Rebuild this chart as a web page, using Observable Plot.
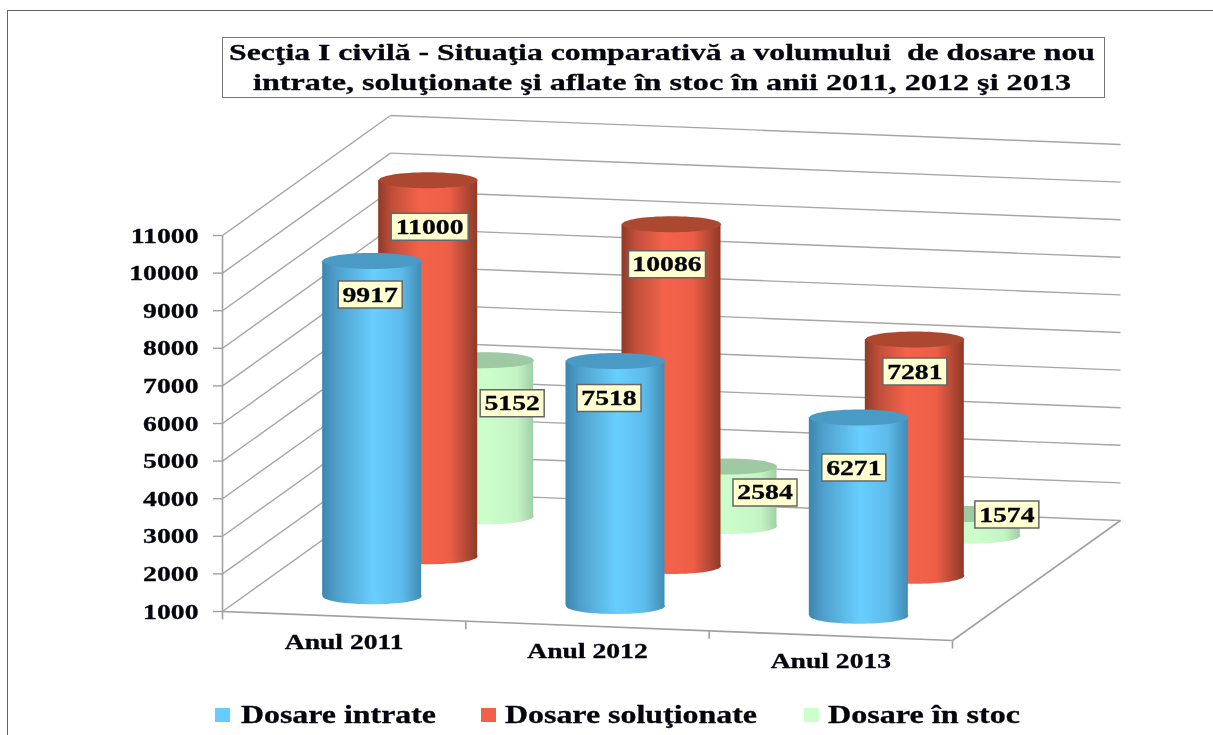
<!DOCTYPE html>
<html>
<head>
<meta charset="utf-8">
<script src="https://cdn.jsdelivr.net/npm/d3@7"></script>
<script src="https://cdn.jsdelivr.net/npm/@observablehq/plot@0.6"></script>
<style>
html,body{margin:0;padding:0;background:#fff;overflow:hidden;width:1213px;height:735px}
#wrap{position:relative;width:1213px;height:735px;font-family:"Liberation Serif",serif;font-weight:bold;color:#05050f;filter:blur(0.35px)}
#frame{position:absolute;left:7px;top:10px;right:0;bottom:0;border-left:1.5px solid #666;border-top:1.5px solid #666;pointer-events:none}
#titlebox{position:absolute;left:222px;top:37px;width:881px;height:59px;border:1.5px solid #777;background:#fff}
.line{position:absolute;white-space:pre;font-size:24px;line-height:26px;transform-origin:0 50%;-webkit-text-stroke:0.3px #05050f}
.leg{position:absolute;white-space:pre;font-size:25px;line-height:28px;transform-origin:0 50%;top:701px;-webkit-text-stroke:0.3px #05050f}
.sw{position:absolute;width:15px;height:14px;top:708px}
svg{display:block}
svg text{stroke:#05050f;stroke-width:0.3px}
</style>
</head>
<body>
<div id="wrap"></div>
<script>
// ---- data ----
const categories = ["Anul 2011", "Anul 2012", "Anul 2013"];
const seriesNames = ["Dosare intrate", "Dosare soluţionate", "Dosare în stoc"];
const dosareIntrate = [9917, 7518, 6271];
const dosareSolutionate = [11000, 10086, 7281];
const dosareInStoc = [5152, 2584, 1574];
const yTicks = [1000, 2000, 3000, 4000, 5000, 6000, 7000, 8000, 9000, 10000, 11000];
const titleLines = [
  "Secţia I civilă - Situaţia comparativă a volumului  de dosare nou",
  "intrate, soluţionate şi aflate în stoc în anii 2011, 2012 şi 2013"
];

// ---- styles ----
const seriesColor = ["#66ccff", "#f2604a", "#ccffcc"];
const seriesTop = ["#4a9ac6", "#ad4830", "#9fc9a2"];
const seriesStops = [
  [["0%", "#3b86ae"], ["14%", "#4f9fcb"], ["52%", "#68cfff"], ["80%", "#5dbbea"], ["100%", "#418cb4"]],
  [["0%", "#8d3a28"], ["14%", "#c04f3a"], ["42%", "#f4624a"], ["72%", "#ee5e47"], ["100%", "#8d3a28"]],
  [["0%", "#a8d6ab"], ["14%", "#bdebbd"], ["50%", "#ccffcc"], ["84%", "#c4f4c4"], ["100%", "#a2cfa6"]]
];
const depthOf = [1 / 6, 1 / 2, 5 / 6];          // front-to-back slot of each series on the floor
const labelNudge = [                            // px offset of each value box from its cylinder's top
  [[-2, 33.5], [-6.5, 37], [-5, 50]],
  [[1.5, 46.5], [-4.5, 40], [0, 32]],
  [[28, 43], [37.5, 26], [36, 0.5]]
];

// ---- oblique projection into the (x, y) data space ----
const pxPerU = 243.3, pxPerV = 0.0376;
const depthU = 168 / pxPerU, depthV = 120 / pxPerV, dropV = 9.67 / pxPerV;
const bodyU = 99 / pxPerU;
const X = (u, d) => u + d * depthU;
const Y = (u, d, v) => v + d * depthV - u * dropV;
const V0 = yTicks[0], V1 = yTicks[yTicks.length - 1], U1 = categories.length;

const values = [dosareIntrate, dosareSolutionate, dosareInStoc];
const rows = values.flatMap((vals, s) => vals.map((v, i) => ({
  s, i, v, label: String(v),
  cx: X(i + 0.5, depthOf[s]),
  base: Y(i + 0.5, depthOf[s], V0),
  top: Y(i + 0.5, depthOf[s], v),
  lx: X(i + 0.5, depthOf[s]) + labelNudge[s][i][0] / pxPerU,
  ly: Y(i + 0.5, depthOf[s], v) - labelNudge[s][i][1] / pxPerV
})));

// custom dot shapes
const ellipseSymbol = (rx, ry) => ({draw(c) {
  const k = 0.5523;
  c.moveTo(-rx, 0);
  c.bezierCurveTo(-rx, -k * ry, -k * rx, -ry, 0, -ry);
  c.bezierCurveTo(k * rx, -ry, rx, -k * ry, rx, 0);
  c.bezierCurveTo(rx, k * ry, k * rx, ry, 0, ry);
  c.bezierCurveTo(-k * rx, ry, -rx, k * ry, -rx, 0);
  c.closePath();
}});
const boxSymbol = (w, h) => ({draw(c) {
  c.moveTo(-w / 2, -h / 2); c.lineTo(w / 2, -h / 2); c.lineTo(w / 2, h / 2); c.lineTo(-w / 2, h / 2); c.closePath();
}});
const capShape = ellipseSymbol(49.5, 8);

// ---- wall and floor lines ----
const wallLines = yTicks.flatMap(v => [
  {x1: X(0, 0), y1: Y(0, 0, v), x2: X(0, 1), y2: Y(0, 1, v)},
  {x1: X(0, 1), y1: Y(0, 1, v), x2: X(U1, 1), y2: Y(U1, 1, v)}
]);
const edgeLines = [
  {x1: X(0, 0), y1: Y(0, 0, V0), x2: X(U1, 0), y2: Y(U1, 0, V0)},
  {x1: X(U1, 0), y1: Y(U1, 0, V0), x2: X(U1, 1), y2: Y(U1, 1, V0)},
  {x1: X(0, 0), y1: Y(0, 0, V0), x2: X(0, 0), y2: Y(0, 0, V1)},
  ...d3.range(U1 + 1).map(u => ({x1: X(u, 0), y1: Y(u, 0, V0), x2: X(u, 0), y2: Y(u, 0, V0) - 8 / pxPerV}))
];
const catRows = categories.map((c, i) => ({c, x: X(i + 0.5, 0), y: Y(i + 0.5, 0, V0)}));

const serif = "Liberation Serif";
const cylinders = [2, 1, 0].flatMap(s => {
  const part = rows.filter(r => r.s === s);
  return [
    Plot.dot(part, {x: "cx", y: "base", symbol: capShape, fill: `url(#cyl${s})`, stroke: "none"}),
    Plot.rect(part, {
      x1: r => r.cx - bodyU / 2, x2: r => r.cx + bodyU / 2,
      y1: "base", y2: "top", fill: `url(#cyl${s})`
    }),
    Plot.dot(part, {x: "cx", y: "top", symbol: capShape, fill: seriesTop[s], stroke: "none"})
  ];
});

const boxStyle = {x: "lx", y: "ly", fill: "#ffffcf", stroke: "#666", strokeWidth: 1.5};
const chart = Plot.plot({
  width: 1213, height: 735,
  marginLeft: 222, marginRight: 93, marginTop: 0, marginBottom: 0,
  style: {background: "transparent", overflow: "visible"},
  x: {domain: [0, U1 + depthU], axis: null},
  y: {domain: [V0, V1], range: [611, 235], axis: null},
  marks: [
    Plot.link(wallLines, {x1: "x1", y1: "y1", x2: "x2", y2: "y2", stroke: "#a6a6a6", strokeWidth: 1.4}),
    Plot.link(edgeLines, {x1: "x1", y1: "y1", x2: "x2", y2: "y2", stroke: "#a0a0a0", strokeWidth: 1.6}),
    Plot.axisY(yTicks, {
      anchor: "left", label: null, tickSize: 9, tickPadding: 15,
      tickFormat: d => String(d), stroke: "#a0a0a0", strokeWidth: 1.4,
      fill: "#05050f", fontFamily: serif, fontWeight: "bold", fontSize: 22
    }),
    ...cylinders,
    Plot.dot(rows.filter(r => r.label.length === 4), {...boxStyle, symbol: boxSymbol(64, 27)}),
    Plot.dot(rows.filter(r => r.label.length === 5), {...boxStyle, symbol: boxSymbol(77, 27)}),
    Plot.text(rows, {
      x: "lx", y: "ly", text: "label", fill: "#05050f",
      fontFamily: serif, fontWeight: "bold", fontSize: 22, lineAnchor: "middle"
    }),
    Plot.text(catRows, {
      x: "x", y: "y", dy: 26, text: "c", fill: "#05050f",
      fontFamily: serif, fontWeight: "bold", fontSize: 20, lineAnchor: "middle"
    })
  ]
});

// gradients for the cylinder sides
const defs = document.createElementNS("http://www.w3.org/2000/svg", "defs");
seriesStops.forEach((stops, s) => {
  const g = document.createElementNS("http://www.w3.org/2000/svg", "linearGradient");
  g.setAttribute("id", `cyl${s}`);
  stops.forEach(([o, c]) => {
    const st = document.createElementNS("http://www.w3.org/2000/svg", "stop");
    st.setAttribute("offset", o); st.setAttribute("stop-color", c);
    g.appendChild(st);
  });
  defs.appendChild(g);
});
chart.insertBefore(defs, chart.firstChild);

const wrap = document.getElementById("wrap");
wrap.appendChild(chart);

// widen the bold serif text the way the reference is stretched
chart.querySelectorAll("text").forEach(t => {
  const f = t.textContent.startsWith("Anul") ? 1.38 : 1.26;
  const len = t.getComputedTextLength();
  t.setAttribute("textLength", (len * f).toFixed(1));
  t.setAttribute("lengthAdjust", "spacingAndGlyphs");
});

function addFitted(parent, cls, text, left, top, width) {
  const el = document.createElement("div");
  el.className = cls;
  el.textContent = text;
  el.style.left = left + "px";
  if (top != null) el.style.top = top + "px";
  parent.appendChild(el);
  el.style.transform = `scaleX(${width / el.getBoundingClientRect().width})`;
}

// frame, title, legend
const frame = document.createElement("div"); frame.id = "frame"; wrap.appendChild(frame);
const box = document.createElement("div"); box.id = "titlebox"; wrap.appendChild(box);
addFitted(wrap, "line", titleLines[0], 229, 39, 866);
addFitted(wrap, "line", titleLines[1], 253, 69, 818);

const legLeft = [241, 505, 828], legWidth = [195, 252, 192], swLeft = [215, 481, 804];
seriesNames.forEach((n, s) => {
  const sw = document.createElement("div");
  sw.className = "sw"; sw.style.left = swLeft[s] + "px"; sw.style.background = seriesColor[s];
  wrap.appendChild(sw);
  addFitted(wrap, "leg", n, legLeft[s], null, legWidth[s]);
});
</script>
</body>
</html>
